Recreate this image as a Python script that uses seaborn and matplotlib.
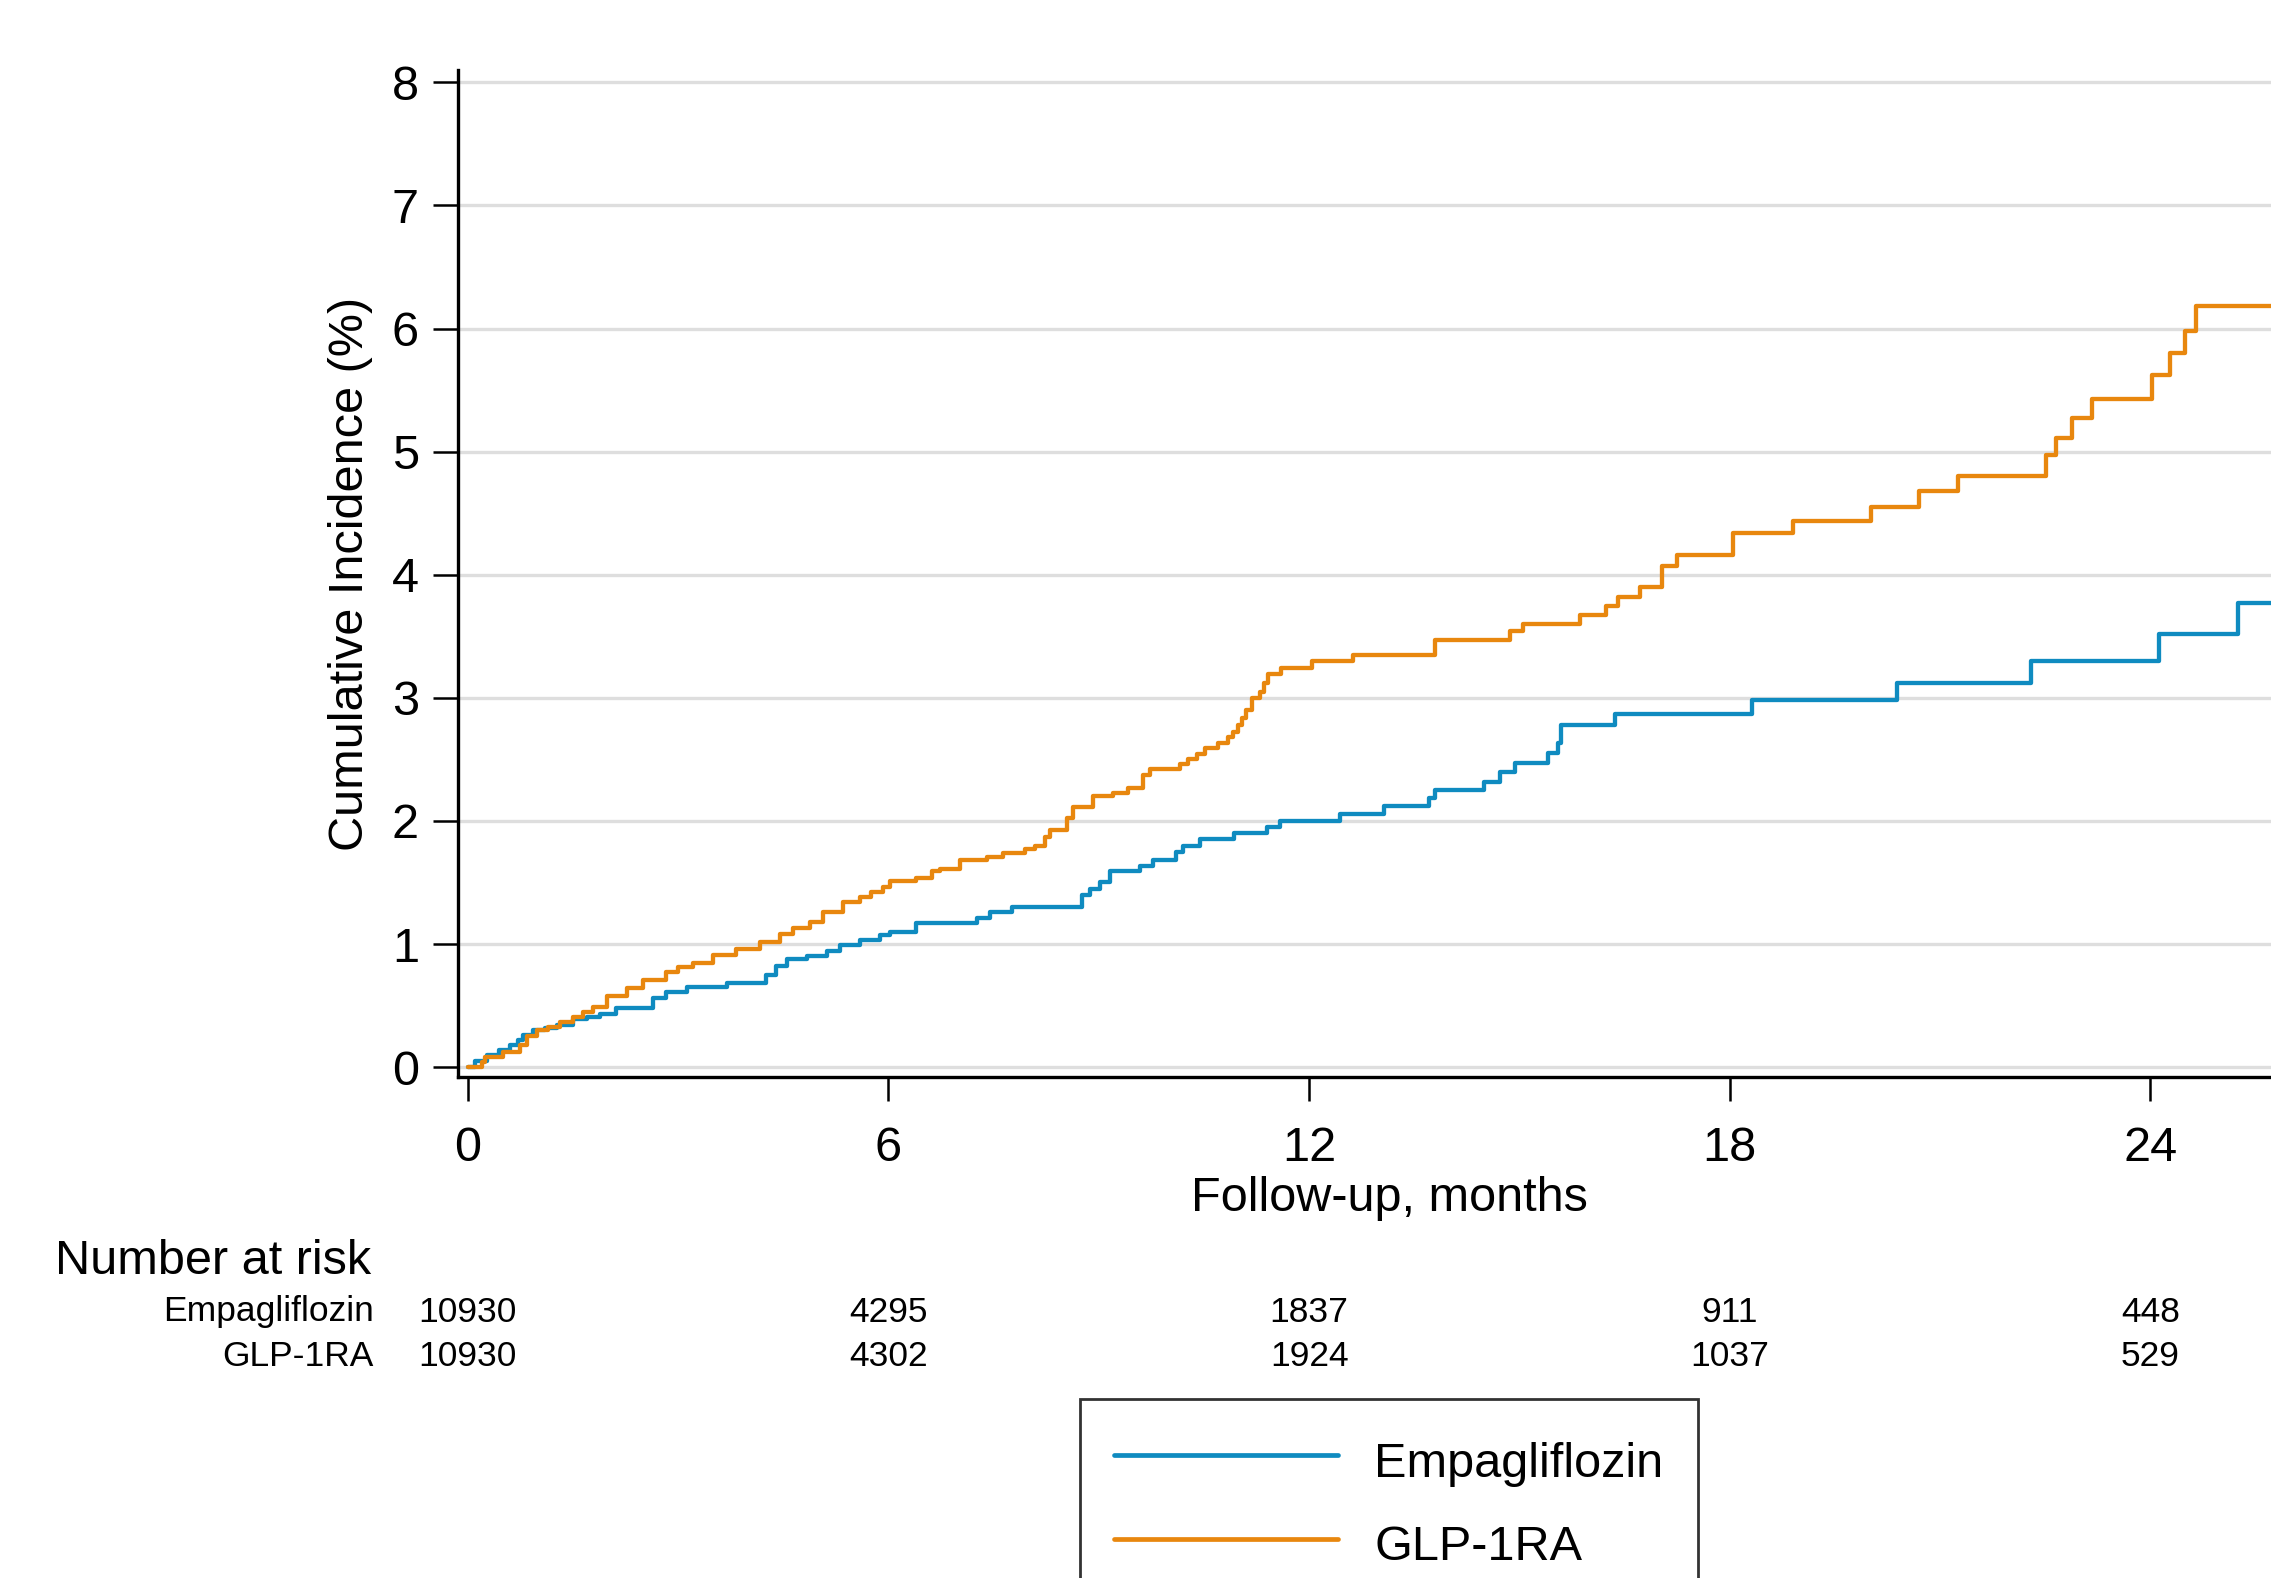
import matplotlib
matplotlib.use("Agg")
import matplotlib.pyplot as plt
import seaborn as sns
import pandas as pd

# ========== DATOS ==========
GRUPOS = ['Empagliflozin', 'GLP-1RA']
COLORES = {'Empagliflozin': '#0f8bc0', 'GLP-1RA': '#e8870e'}

# Incidencia acumulada (%) - pasos
t_empa = [0, 0.1, 0.27, 0.45, 0.6, 0.72, 0.79, 0.93, 1.1, 1.27, 1.5, 1.7, 1.88, 2.12,
          2.64, 2.83, 3.12, 3.69, 4.26, 4.4, 4.55, 4.84, 5.12, 5.31, 5.59, 5.88, 6.02,
          6.4, 7.26, 7.45, 7.76, 8.76, 8.87, 9.02, 9.16, 9.59, 9.77, 10.1, 10.2, 10.44,
          10.93, 11.4, 11.59, 12.44, 13.07, 13.71, 13.8, 14.5, 14.72, 14.94, 15.41,
          15.55, 15.6, 16.36, 18.32, 20.38, 22.3, 24.13, 25.25, 26.4]
y_empa = [0, 0.05, 0.10, 0.14, 0.18, 0.22, 0.26, 0.30, 0.32, 0.34, 0.39, 0.41, 0.43, 0.48,
          0.56, 0.61, 0.65, 0.68, 0.75, 0.82, 0.88, 0.90, 0.94, 0.99, 1.03, 1.07, 1.10,
          1.17, 1.21, 1.26, 1.30, 1.40, 1.45, 1.50, 1.59, 1.63, 1.68, 1.75, 1.80, 1.85,
          1.90, 1.95, 2.00, 2.06, 2.12, 2.19, 2.25, 2.32, 2.40, 2.47, 2.55,
          2.63, 2.78, 2.87, 2.98, 3.12, 3.30, 3.52, 3.77, 3.77]

t_glp = [0, 0.2, 0.24, 0.5, 0.74, 0.84, 0.98, 1.15, 1.31, 1.5, 1.64, 1.79, 1.98, 2.27,
         2.5, 2.83, 3.0, 3.21, 3.5, 3.83, 4.17, 4.45, 4.64, 4.88, 5.07, 5.35, 5.59, 5.75,
         5.92, 6.02, 6.4, 6.62, 6.73, 7.02, 7.4, 7.64, 7.95, 8.09, 8.23, 8.3, 8.55, 8.63,
         8.92, 9.2, 9.42, 9.63, 9.73, 10.16, 10.27, 10.4, 10.51, 10.7, 10.84, 10.92,
         10.98, 11.04, 11.1, 11.18, 11.3, 11.36, 11.41, 11.6, 12.04, 12.63, 13.8, 14.86,
         15.05, 15.86, 16.23, 16.41, 16.72, 17.03, 17.25, 18.05, 18.9, 20.01, 20.7,
         21.26, 22.51, 22.66, 22.88, 23.17, 24.02, 24.28, 24.5, 24.65, 26.4]
y_glp = [0, 0.04, 0.08, 0.12, 0.18, 0.25, 0.30, 0.33, 0.37, 0.41, 0.45, 0.49, 0.58, 0.64,
         0.71, 0.77, 0.81, 0.85, 0.91, 0.96, 1.02, 1.08, 1.13, 1.18, 1.26, 1.34, 1.38, 1.42,
         1.46, 1.51, 1.54, 1.59, 1.61, 1.68, 1.71, 1.74, 1.77, 1.80, 1.87, 1.93, 2.02, 2.11,
         2.20, 2.23, 2.27, 2.37, 2.42, 2.46, 2.50, 2.54, 2.59, 2.63, 2.68, 2.72,
         2.78, 2.84, 2.90, 3.00, 3.05, 3.12, 3.19, 3.24, 3.30, 3.35, 3.47, 3.54,
         3.60, 3.67, 3.75, 3.82, 3.90, 4.07, 4.16, 4.34, 4.44, 4.55, 4.68,
         4.80, 4.97, 5.11, 5.27, 5.43, 5.62, 5.80, 5.98, 6.18, 6.18]

# Número en riesgo
MESES_RIESGO = [0, 6, 12, 18, 24]
riesgo_empa = ['10930', '4295', '1837', '911', '448']
riesgo_glp = ['10930', '4302', '1924', '1037', '529']

df = pd.concat([
    pd.DataFrame({'mes': t_empa, 'inc': y_empa, 'grupo': 'Empagliflozin'}),
    pd.DataFrame({'mes': t_glp, 'inc': y_glp, 'grupo': 'GLP-1RA'}),
])

# ========== ESTILO ==========
sns.set_theme(style="white")
plt.rcParams['font.family'] = ['Liberation Sans', 'DejaVu Sans']
plt.rcParams['text.color'] = 'black'
plt.rcParams['axes.labelcolor'] = 'black'

W, H = 2271, 1578
fig = plt.figure(figsize=(W / 100, H / 100), dpi=100)
# el eje sigue más allá del borde derecho (figura recortada)
ax = fig.add_axes([458 / W, 1 - 1077 / H, (2320 - 458) / W, (1077 - 70) / H])

sns.lineplot(data=df, x='mes', y='inc', hue='grupo', palette=COLORES,
             hue_order=GRUPOS, estimator=None, drawstyle='steps-post',
             linewidth=3.1, legend=False, ax=ax)

ax.set_xlim(-0.14, 26.42)
ax.set_ylim(-0.08, 8.1)
ax.set_xticks(MESES_RIESGO)
ax.set_yticks(range(0, 9))
ax.yaxis.grid(True, color='#dedede', linewidth=2.4)
ax.xaxis.grid(False)
ax.set_axisbelow(True)
for lado in ['top', 'right']:
    ax.spines[lado].set_visible(False)
for lado in ['left', 'bottom']:
    ax.spines[lado].set_color('black')
    ax.spines[lado].set_linewidth(2.4)
ax.tick_params(axis='x', direction='out', length=17, width=1.8, pad=18,
               labelsize=35, colors='black', bottom=True)
ax.tick_params(axis='y', direction='out', length=18, width=1.8, pad=10,
               labelsize=35, colors='black', left=True)

ax.set_xlabel('Follow-up, months', fontsize=35, labelpad=4)
ax.set_ylabel('Cumulative Incidence (%)', fontsize=35, labelpad=14)

# ========== TABLA NÚMERO EN RIESGO ==========
ax.text(55 / W, 1 - 1262 / H, 'Number at risk', transform=fig.transFigure,
        fontsize=35, ha='left', va='center')
for fila, (nombre, valores) in enumerate([('Empagliflozin', riesgo_empa),
                                           ('GLP-1RA', riesgo_glp)]):
    yf = 1 - (1312 + fila * 45) / H
    ax.text(374 / W, yf, nombre, transform=fig.transFigure,
            fontsize=25.5, ha='right', va='center')
    for mes, val in zip(MESES_RIESGO, valores):
        ax.annotate(val, xy=(mes, yf), xycoords=('data', 'figure fraction'),
                    fontsize=25.5, ha='center', va='center', annotation_clip=False)

# ========== LEYENDA ==========
lineas = ax.get_lines()[:2]
ley = ax.legend(lineas, GRUPOS, loc='upper center',
                bbox_to_anchor=(1389 / W, 1 - 1399 / H), bbox_transform=fig.transFigure,
                borderaxespad=0, fontsize=35, frameon=True, fancybox=False,
                edgecolor='black', handlelength=4.6, handleheight=1.35,
                handletextpad=0.75, borderpad=0.7, labelspacing=0.6)
ley.get_frame().set_linewidth(2.0)
for h in ley.get_lines():
    h.set_linewidth(3.4)

plt.savefig('out.png', dpi=100)
